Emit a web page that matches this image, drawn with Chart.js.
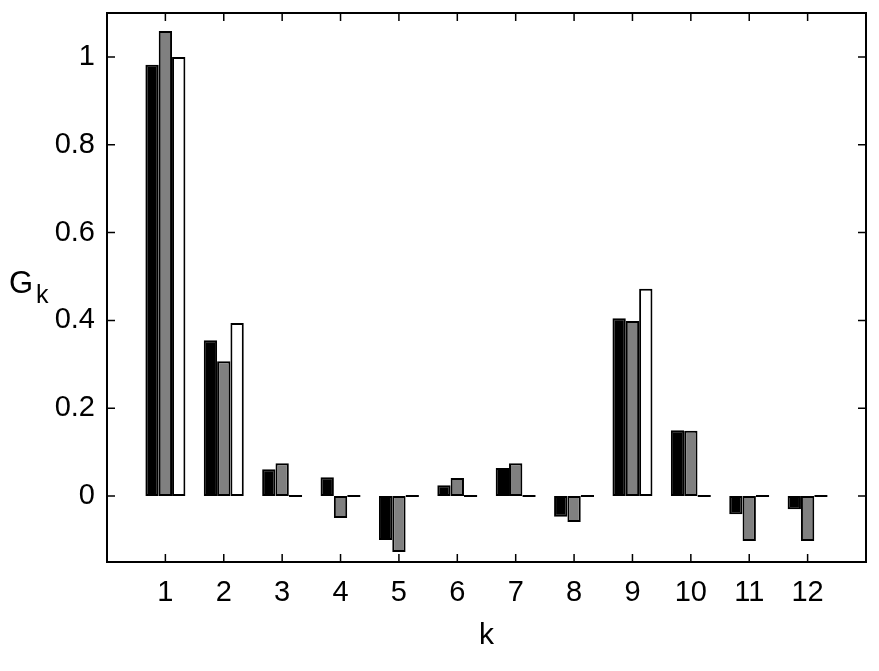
<!DOCTYPE html>
<html>
<head>
<meta charset="utf-8">
<script src="https://cdn.jsdelivr.net/npm/chart.js@4"></script>
<style>
  html, body { margin: 0; padding: 0; background: #fff; }
  #wrap { width: 879px; height: 671px; }
</style>
</head>
<body>
<div id="wrap"><canvas id="myChart" width="879" height="671"></canvas></div>
<script>
var kLabels = ["1", "2", "3", "4", "5", "6", "7", "8", "9", "10", "11", "12"];
var seriesBlack = [0.982, 0.355, 0.061, 0.043, -0.100, 0.025, 0.064, -0.047, 0.405, 0.150, -0.041, -0.030];
var seriesGrey  = [1.059, 0.307, 0.075, -0.050, -0.127, 0.041, 0.075, -0.059, 0.399, 0.149, -0.102, -0.102];
var seriesWhite = [1.000, 0.394, 0, 0, 0, 0, 0, 0, 0.472, 0, 0, 0];
var yTicks = [0, 0.2, 0.4, 0.6, 0.8, 1];

// pad with an empty slot on each side so 1..12 sit inside the box
var labels = [""].concat(kLabels, [""]);
function pad(arr) { return [null].concat(arr, [null]); }

var FONT = "Liberation Sans, Arial, Helvetica, sans-serif";

// MATLAB-like box with inward ticks, plus the axis labels
var boxPlugin = {
  id: "box",
  afterDraw: function (chart) {
    var ctx = chart.ctx, a = chart.chartArea;
    var xs = chart.scales.x, ys = chart.scales.y;
    ctx.save();
    ctx.strokeStyle = "#000";
    ctx.lineWidth = 2;
    ctx.strokeRect(a.left, a.top, a.right - a.left, a.bottom - a.top);
    ctx.lineWidth = 1.5;
    ctx.beginPath();
    var t = 8;
    yTicks.forEach(function (v) {
      var y = ys.getPixelForValue(v);
      ctx.moveTo(a.left, y); ctx.lineTo(a.left + t, y);
      ctx.moveTo(a.right, y); ctx.lineTo(a.right - t, y);
    });
    for (var i = 1; i <= kLabels.length; i++) {
      var x = xs.getPixelForValue(i);
      ctx.moveTo(x, a.bottom); ctx.lineTo(x, a.bottom - t);
      ctx.moveTo(x, a.top); ctx.lineTo(x, a.top + t);
    }
    ctx.stroke();
    ctx.fillStyle = "#000";
    ctx.textBaseline = "alphabetic";
    ctx.textAlign = "left";
    ctx.font = "31px " + FONT;
    ctx.fillText("G", 9, 293);
    ctx.font = "25px " + FONT;
    ctx.fillText("k", 36, 303);
    ctx.textAlign = "center";
    ctx.font = "30px " + FONT;
    ctx.fillText("k", (a.left + a.right) / 2, 644);
    ctx.restore();
  }
};

function ds(data, color) {
  return {
    data: pad(data),
    backgroundColor: color,
    borderColor: "#000",
    borderWidth: 2,
    borderSkipped: false,
    minBarLength: 2,
    categoryPercentage: 0.685,
    barPercentage: 1.0
  };
}

new Chart("myChart", {
  type: "bar",
  data: {
    labels: labels,
    datasets: [
      ds(seriesBlack, "#000000"),
      ds(seriesGrey, "#808080"),
      ds(seriesWhite, "#ffffff")
    ]
  },
  plugins: [boxPlugin],
  options: {
    responsive: false,
    animation: false,
    layout: { padding: { top: 13, right: 13, left: 0, bottom: 0 } },
    plugins: {
      legend: { display: false },
      tooltip: { enabled: false }
    },
    scales: {
      x: {
        offset: false,
        grid: { display: false, drawTicks: false },
        border: { display: false },
        ticks: {
          autoSkip: false,
          maxRotation: 0,
          padding: 14,
          color: "#000",
          font: { family: FONT, size: 29 }
        },
        afterFit: function (s) {
          s.height = 671 - 562;
          s.paddingLeft = 0; s.paddingRight = 0;
        }
      },
      y: {
        min: -0.15,
        max: 1.1,
        grid: { display: false, drawTicks: false },
        border: { display: false },
        afterBuildTicks: function (s) {
          s.ticks = yTicks.map(function (v) { return { value: v }; });
        },
        ticks: {
          padding: 12,
          color: "#000",
          font: { family: FONT, size: 29 },
          callback: function (v) { return String(Math.round(v * 10) / 10); }
        },
        afterFit: function (s) {
          s.width = 107;
          s.paddingTop = 0; s.paddingBottom = 0;
        }
      }
    }
  }
});
</script>
</body>
</html>
